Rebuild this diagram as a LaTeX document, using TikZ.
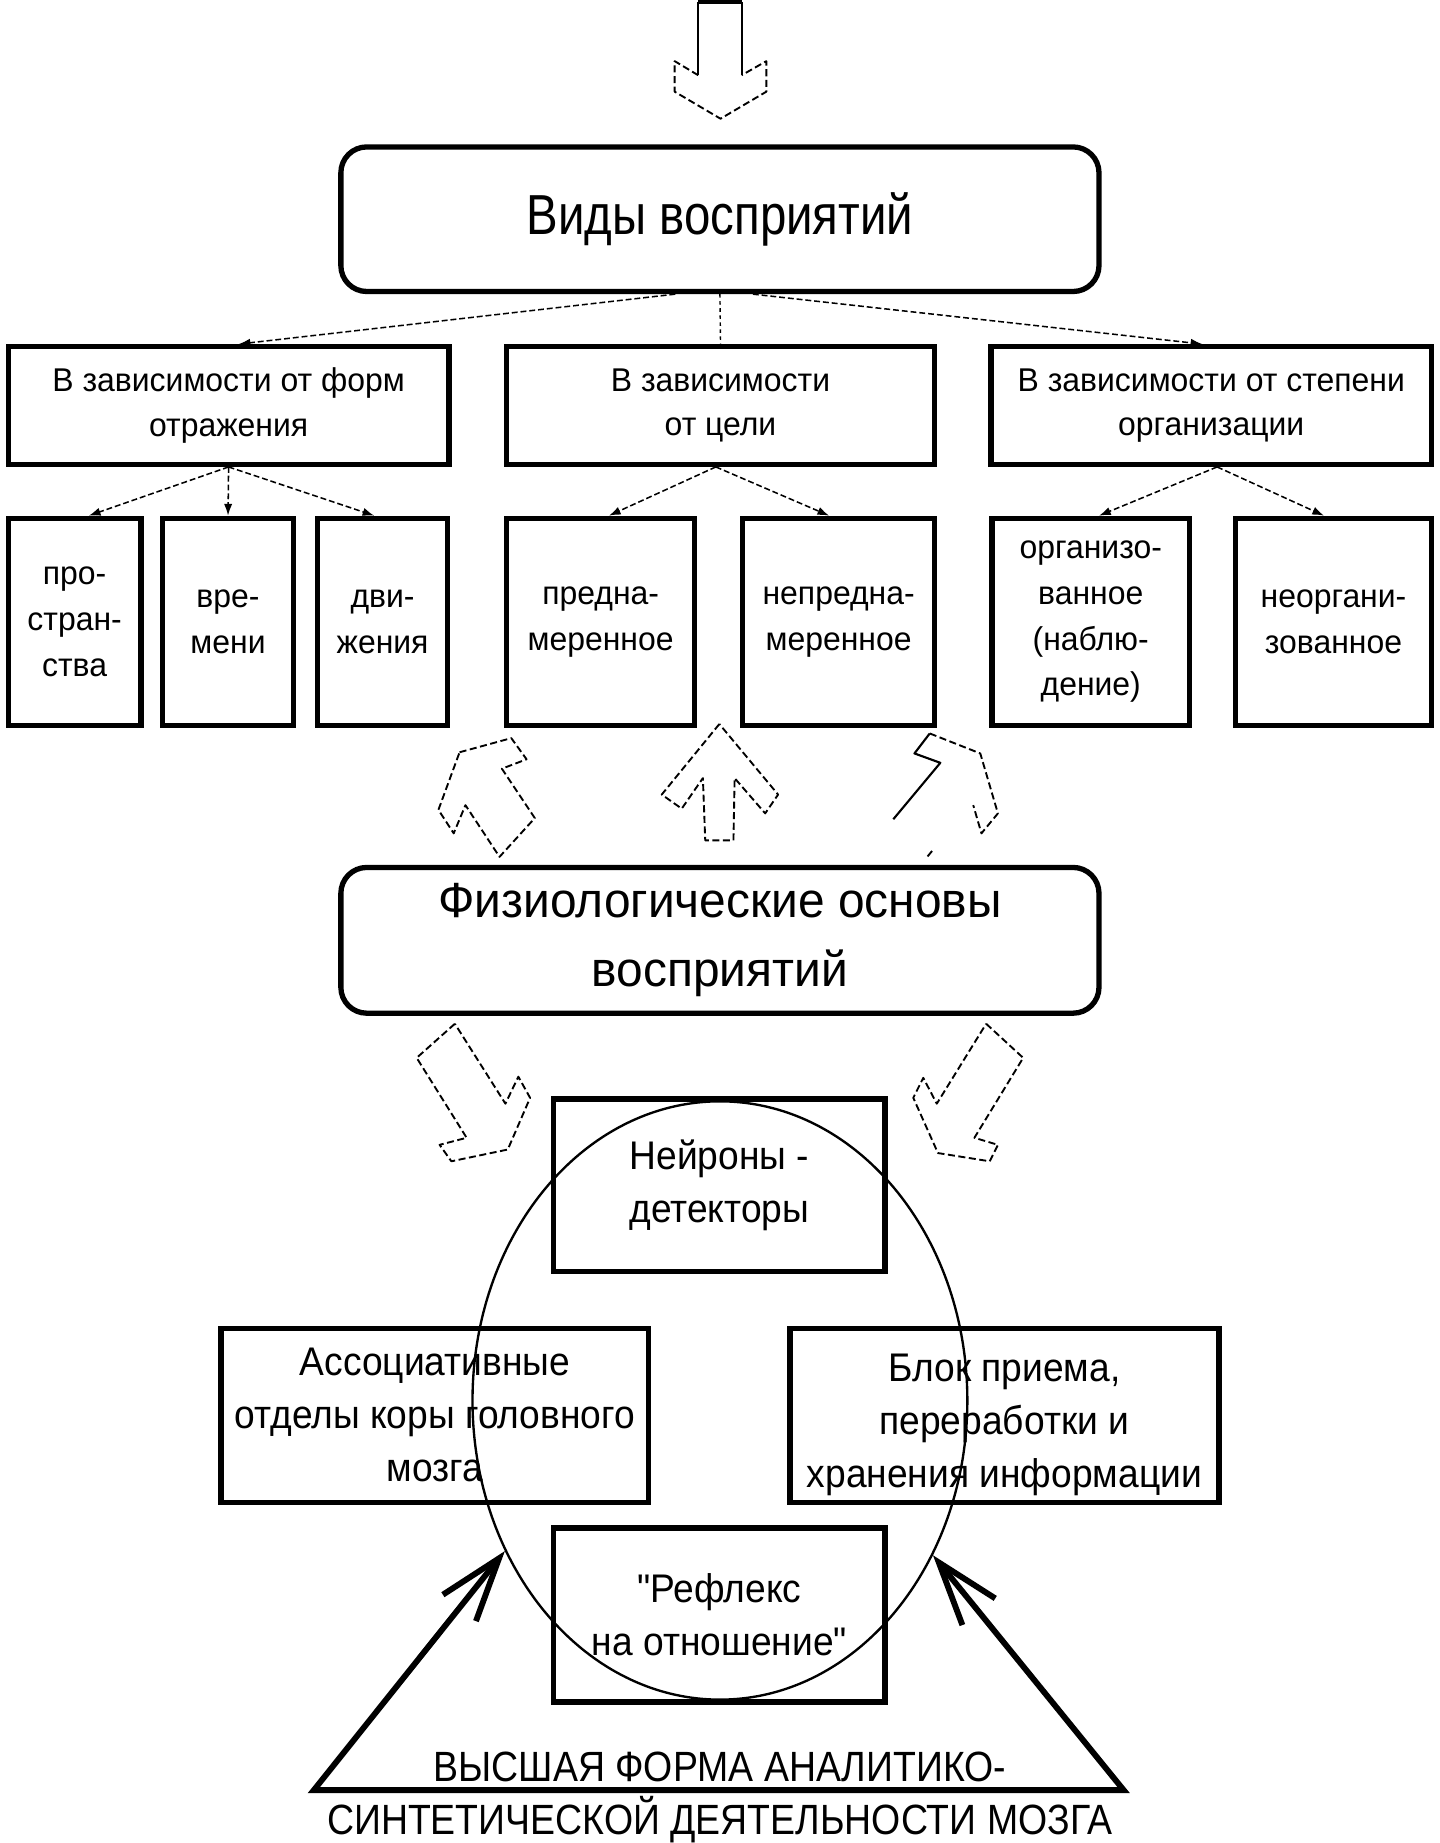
\documentclass[tikz,border=0pt]{standalone}
\usepackage{fontspec}
\setmainfont{Liberation Sans}
\newfontfamily\fT[FakeStretch=0.84]{Liberation Sans}
\newfontfamily\fB[FakeStretch=0.885]{Liberation Sans}
\newfontfamily\fN[FakeStretch=0.97]{Liberation Sans}
\newfontfamily\fL[FakeStretch=0.93]{Liberation Sans}
\usetikzlibrary{shapes.geometric,arrows.meta}
\tikzset{
  box/.style={draw, line width=4.5pt, inner sep=0pt, align=center},
  rbox/.style={box, rounded corners=22pt},
  conn/.style={line width=1.3pt, dash pattern=on 5pt off 2.5pt, -{Latex[length=10pt,width=7pt]}},
  thin dashed/.style={line width=1.2pt, dash pattern=on 3pt off 3pt},
  blk/.style={line width=1.6pt, dash pattern=on 6pt off 3pt, line join=round},
  blksolid/.style={line width=1.8pt, line join=round},
  big/.style={line width=5pt, line join=miter, {Straight Barb[length=54pt,width=36pt]}-{Straight Barb[length=54pt,width=36pt]}},
  lvtwo/.style={box, font=\fN\fontsize{28}{38}\selectfont},
  lvthree/.style={box, font=\fN\fontsize{28}{39}\selectfont, minimum height=176pt},
  lower/.style={box, font=\fL\fontsize{34}{45}\selectfont, minimum height=148pt},
  bottomtext/.style={anchor=base, inner sep=0pt, font=\fB\fontsize{36}{46}\selectfont},
}
\begin{document}
\begin{tikzpicture}[x=1pt,y=-1pt]
\useasboundingbox[fill=white] (0,0) rectangle (1225.13,1568);

% top incoming arrow
\draw[line width=3pt] (594,1.5) -- (631,1.5);
\draw[blksolid] (594,1.5) -- (594,64);
\draw[blksolid] (631,1.5) -- (631,64);
\draw[blk] (594,64) -- (574,52) -- (574,78) -- (613,101) -- (652,78) -- (652,52) -- (631,64);

% title
\node[rbox, minimum width=645pt, minimum height=123pt, font=\fT\fontsize{48}{56}\selectfont] (t) at (612.5,186.5) {Виды восприятий};

% level 2
\node[lvtwo, minimum width=375pt, minimum height=100pt] (l2a) at (194.5,345) {В зависимости от форм\\отражения};
\node[lvtwo, minimum width=364pt, minimum height=100pt] (l2b) at (613,345) {В зависимости\\от цели};
\node[lvtwo, minimum width=375pt, minimum height=100pt] (l2c) at (1030.5,345) {В зависимости от степени\\организации};

\draw[conn] ([xshift=-38pt]t.south) -- ([xshift=8.5pt]l2a.north);
\draw[thin dashed] (t.south) -- (l2b.north);
\draw[conn] ([xshift=28pt]t.south) -- ([xshift=-7.5pt]l2c.north);

% level 3
\node[lvthree, minimum width=113pt] (b1) at (63.5,529) {про-\\стран-\\ства};
\node[lvthree, minimum width=112pt] (b2) at (194,529) {вре-\\мени};
\node[lvthree, minimum width=111pt] (b3) at (325.5,529) {дви-\\жения};
\node[lvthree, minimum width=160pt] (b4) at (511,529) {предна-\\меренное};
\node[lvthree, minimum width=163pt] (b5) at (713.5,529) {непредна-\\меренное};
\node[lvthree, minimum width=168pt] (b6) at (928,529) {организо-\\ванное\\(наблю-\\дение)};
\node[lvthree, minimum width=167pt] (b7) at (1134.5,529) {неоргани-\\зованное};

\draw[conn] (l2a.south) -- ([xshift=12pt]b1.north);
\draw[conn] (l2a.south) -- (b2.north);
\draw[conn] (l2a.south) -- ([xshift=-7pt]b3.north);
\draw[conn] ([xshift=-4pt]l2b.south) -- ([xshift=7pt]b4.north);
\draw[conn] ([xshift=-4pt]l2b.south) -- ([xshift=-8pt]b5.north);
\draw[conn] ([xshift=5pt]l2c.south) -- ([xshift=7pt]b6.north);
\draw[conn] ([xshift=5pt]l2c.south) -- ([xshift=-8pt]b7.north);

% upward block arrows
\draw[blk] (391,640) -- (435,628) -- (448,646) -- (427,654) -- (455,696) -- (425,729) -- (396,685) -- (386,709) -- (373,689) -- cycle;
\draw[blk] (612,616) -- (563,676) -- (580,688) -- (598,662) -- (600,715) -- (624,715) -- (625,662) -- (651,692) -- (662,676) -- cycle;
\draw[blksolid] (760,697) -- (800,649) -- (778,641) -- (791,624);
\draw[blk] (791,624) -- (834,641) -- (849,692) -- (835,709) -- (828,685);
\draw[blk] (793,724) -- (788,730);

% physiological basis
\node[rbox, minimum width=645pt, minimum height=124pt, font=\fN\fontsize{42}{59}\selectfont] (p) at (612.5,800) {Физиологические основы\\восприятий};

% downward block arrows
\draw[blk] (387,871) -- (354.5,900) -- (397,968) -- (374,974) -- (384,988) -- (432,978) -- (451,934) -- (441,916) -- (430,939) -- cycle;
\draw[blk] (839,871) -- (870.5,900) -- (829,968) -- (849,974) -- (842,988) -- (798,981) -- (777,934) -- (785.5,917) -- (797,939) -- cycle;

% lower boxes
\node[lower, minimum width=282pt, minimum height=147pt] (n) at (612,1008.5) {Нейроны -\\детекторы};
\node[lower, minimum width=364pt] (a) at (370,1204) {Ассоциативные\\отделы коры головного\\мозга};
\node[lower, minimum width=365pt] (k) at (854.5,1204) {\rule{0pt}{40pt}Блок приема,\\переработки и\\хранения информации};
\node[lower, minimum width=282pt] (r) at (612,1374) {"Рефлекс\\на отношение"};

% ellipse
\node[draw, ellipse, line width=2pt, minimum width=421pt, minimum height=509pt, inner sep=0pt] (e) at (612.5,1191.5) {};

% bottom triangle with arrows
\coordinate (bl) at (267,1523);
\coordinate (br) at (956,1523);
\draw[big] (e.215.75) -- (bl) -- (br) -- (e.324.1);

\node[bottomtext] (bt1) at (612.5,1516) {ВЫСШАЯ ФОРМА АНАЛИТИКО-};
\node[bottomtext] (bt2) at (612.5,1561) {СИНТЕТИЧЕСКОЙ ДЕЯТЕЛЬНОСТИ МОЗГА};
\end{tikzpicture}
\end{document}
